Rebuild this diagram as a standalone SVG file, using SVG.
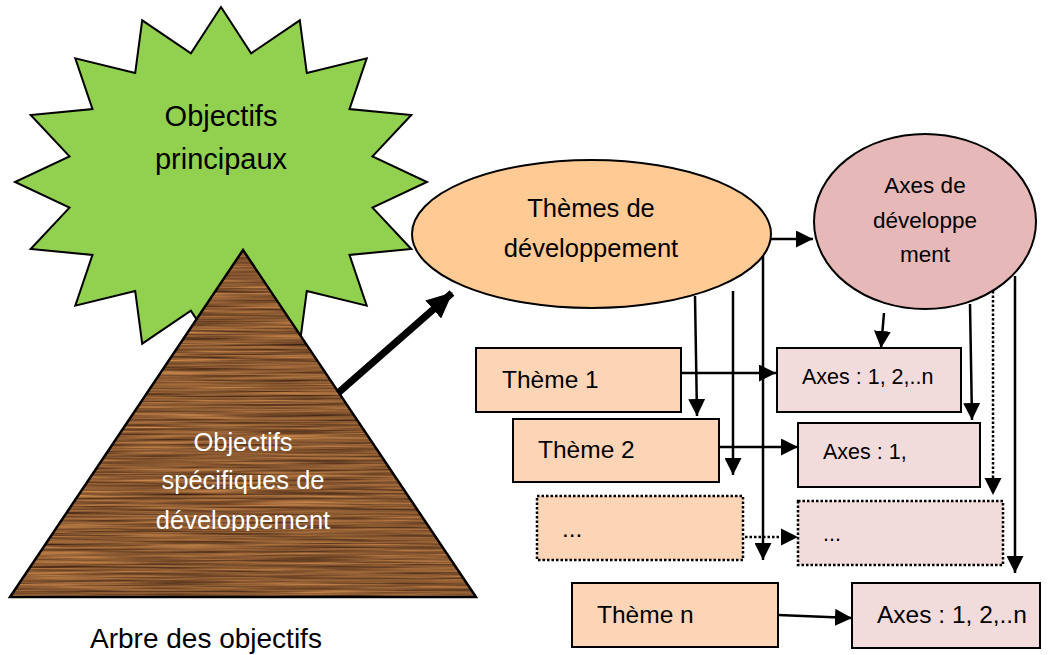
<svg xmlns="http://www.w3.org/2000/svg" width="1048" height="655" viewBox="0 0 1048 655">
<style>
text{font-family:"Liberation Sans",Arial,sans-serif;fill:#000}
.c{text-anchor:middle}
.w{fill:#fff}
.ln{stroke:#000;stroke-width:2.5;fill:none}
.dot{stroke:#000;stroke-width:2.5;fill:none;stroke-dasharray:2.5 2}
.tb{fill:#FBD5B5;stroke:#000;stroke-width:2}
.ab{fill:#F2DCDB;stroke:#000;stroke-width:2}
.tbd{fill:#FBD5B5;stroke:#000;stroke-width:2.5;stroke-dasharray:2.5 2}
.abd{fill:#F2DCDB;stroke:#000;stroke-width:2.5;stroke-dasharray:2.5 2}
</style>
<defs>
<marker id="ah" markerUnits="userSpaceOnUse" markerWidth="17" markerHeight="17" viewBox="0 0 17 17" refX="17" refY="8.5" orient="auto"><path d="M0,0 L17,8.5 L0,17 z" fill="#000"/></marker>
<marker id="big" markerUnits="userSpaceOnUse" markerWidth="26" markerHeight="24" viewBox="0 0 26 24" refX="25" refY="12" orient="auto"><path d="M0,0 L26,12 L0,24 z" fill="#000"/></marker>
<filter id="wood" x="0" y="0" width="1" height="1" color-interpolation-filters="sRGB">
<feTurbulence type="fractalNoise" baseFrequency="0.008 0.45" numOctaves="3" seed="7" result="n"/>
<feColorMatrix in="n" type="matrix" values="0.75 0 0 0 0.16  0.55 0 0 0 0.07  0.32 0 0 0 0.03  0 0 0 0 1" result="c"/>
<feComposite in="c" in2="SourceGraphic" operator="in"/>
</filter>
<clipPath id="pclip"><rect x="0" y="0" width="480" height="531"/></clipPath>
</defs>

<g id="star">
<polygon fill="#92D050" stroke="#000" stroke-width="2" points="221,7 251.1,53.3 299.8,20.3 306.8,72.9 366.7,58.3 349.5,109.1 411.3,115 372.5,156.4 427,182 372.5,207.6 411.3,249 349.5,254.9 366.7,305.7 306.8,291.1 299.8,343.7 251.1,310.7 221,357 190.9,310.7 142.2,343.7 135.2,291.1 75.3,305.7 92.5,254.9 30.7,249 69.5,207.6 15,182 69.5,156.4 30.7,115 92.5,109.1 75.3,58.3 135.2,72.9 142.2,20.3 190.9,53.3"/>
<text class="c" x="221" y="126" font-size="29">Objectifs</text>
<text class="c" x="221" y="169" font-size="29">principaux</text>
</g>

<g id="pyramid">
<polygon points="243,250 476,597 10,597" fill="#8a5a30" filter="url(#wood)"/>
<polygon points="243,250 476,597 10,597" fill="none" stroke="#000" stroke-width="2.5"/>
<text class="c w" x="243" y="451" font-size="25.5">Objectifs</text>
<text class="c w" x="243" y="489" font-size="25.5">spécifiques de</text>
<text class="c w" x="243" y="528.5" font-size="25.5" clip-path="url(#pclip)">développement</text>
</g>

<g id="caption">
<text x="90" y="648" font-size="28">Arbre des objectifs</text>
</g>

<g id="themes">
<ellipse cx="591.5" cy="234" rx="179.5" ry="74" fill="#FFCA94" stroke="#000" stroke-width="2"/>
<text class="c" x="591" y="217" font-size="25.5">Thèmes de</text>
<text class="c" x="591" y="256.5" font-size="25.5">développement</text>
</g>

<g id="axes">
<ellipse cx="925" cy="221.5" rx="111" ry="87.5" fill="#E6B9B8" stroke="#000" stroke-width="2"/>
<text class="c" x="925" y="192.5" font-size="22.5">Axes de</text>
<text class="c" x="925" y="228" font-size="22.5">développe</text>
<text class="c" x="925" y="261.5" font-size="22.5">ment</text>
</g>

<g id="theme1"><rect class="tb" x="476" y="348" width="205" height="64"/><text x="502" y="388" font-size="24.5">Thème 1</text></g>
<g id="theme2"><rect class="tb" x="513" y="419" width="206" height="63"/><text x="538" y="458" font-size="24.5">Thème 2</text></g>
<g id="themeDots"><rect class="tbd" x="537" y="496" width="206" height="64"/><text x="562" y="537" font-size="24.5">...</text></g>
<g id="themeN"><rect class="tb" x="572" y="583" width="206" height="64"/><text x="597" y="623" font-size="24.5">Thème n</text></g>

<g id="axes1"><rect class="ab" x="777" y="348" width="184" height="64"/><text x="802" y="384" font-size="21.5">Axes : 1, 2,..n</text></g>
<g id="axes2"><rect class="ab" x="798" y="423" width="182" height="64"/><text x="823" y="459" font-size="21.5">Axes : 1,</text></g>
<g id="axesDots"><rect class="abd" x="798" y="501" width="205" height="64"/><text x="823" y="541" font-size="21.5">...</text></g>
<g id="axesN"><rect class="ab" x="852" y="583" width="188" height="65"/><text x="877" y="623" font-size="24.5">Axes : 1, 2,..n</text></g>

<g id="connectors">
<line x1="338" y1="393" x2="452" y2="293" stroke="#000" stroke-width="7" marker-end="url(#big)"/>
<line class="ln" x1="771" y1="239" x2="813" y2="239" marker-end="url(#ah)"/>
<line class="ln" x1="695" y1="296" x2="697" y2="416" marker-end="url(#ah)"/>
<line class="ln" x1="733" y1="291" x2="733" y2="475" marker-end="url(#ah)"/>
<line class="ln" x1="763" y1="256" x2="763" y2="560" marker-end="url(#ah)"/>
<line class="ln" x1="681" y1="373" x2="776" y2="373" marker-end="url(#ah)"/>
<line class="ln" x1="719" y1="447" x2="798" y2="447" marker-end="url(#ah)"/>
<line class="dot" x1="745" y1="537" x2="784" y2="537"/>
<path d="M781,528.5 L798,537 L781,545.5 z" fill="#000"/>
<line class="ln" x1="778" y1="615" x2="852" y2="618" marker-end="url(#ah)"/>
<line class="ln" x1="884" y1="313" x2="881" y2="348" marker-end="url(#ah)"/>
<line class="ln" x1="970" y1="304" x2="972" y2="420" marker-end="url(#ah)"/>
<line class="dot" x1="993" y1="291" x2="993" y2="481"/>
<path d="M984.5,478 L993,495 L1001.5,478 z" fill="#000"/>
<line class="ln" x1="1015" y1="276" x2="1015" y2="573" marker-end="url(#ah)"/>
</g>
</svg>
